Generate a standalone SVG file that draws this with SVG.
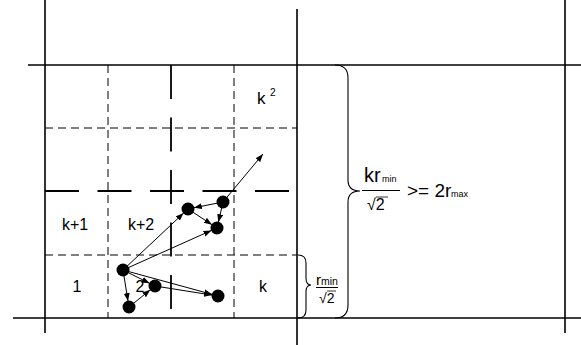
<svg xmlns="http://www.w3.org/2000/svg" width="581" height="345" viewBox="0 0 581 345">
<style>
.solid{stroke:#000;stroke-width:1.6;fill:none}
.dash{stroke:#000;stroke-width:1;stroke-dasharray:8 5;fill:none}
.long{stroke:#000;stroke-width:1.8;stroke-dasharray:34 18.5;fill:none}
.brace{stroke:#000;stroke-width:1.1;fill:none}
.arr{stroke:#000;stroke-width:1;fill:none;marker-end:url(#ah)}
.dot{fill:#000}
text{font-family:"Liberation Sans",Arial,sans-serif;fill:#000}
.lbl{font-size:16px}
</style>
<defs>
<marker id="ah" markerUnits="userSpaceOnUse" markerWidth="9" markerHeight="7" refX="8" refY="3" orient="auto">
<path d="M0,0 L8,3 L0,6 z" fill="#000"/>
</marker>
</defs>
<g id="grid">
<line class="solid" x1="45" y1="0" x2="45" y2="333"/>
<line class="solid" x1="297" y1="9" x2="297" y2="345"/>
<line class="solid" x1="565" y1="0" x2="565" y2="333"/>
<line class="solid" x1="28" y1="65" x2="581" y2="65"/>
<line class="solid" x1="13" y1="318" x2="581" y2="318"/>
<line class="dash" x1="108" y1="65" x2="108" y2="318"/>
<line class="dash" x1="234" y1="65" x2="234" y2="318"/>
<line class="dash" x1="45" y1="128" x2="297" y2="128"/>
<line class="dash" x1="45" y1="255" x2="297" y2="255"/>
<line class="long" x1="171" y1="65" x2="171" y2="318"/>
<line class="long" x1="45" y1="191" x2="297" y2="191"/>
</g>
<g id="labels">
<text x="257" y="104" style="font-size:17px">k</text>
<text x="270" y="96" style="font-size:10px">2</text>
<text class="lbl" x="75" y="230" text-anchor="middle">k+1</text>
<text class="lbl" x="141" y="230" text-anchor="middle">k+2</text>
<text class="lbl" x="77" y="292" text-anchor="middle">1</text>
<text class="lbl" x="140" y="292" text-anchor="middle">2</text>
<text class="lbl" x="263" y="292" text-anchor="middle">k</text>
</g>
<g id="connectors">
<line class="arr" x1="123" y1="270" x2="128" y2="301.1"/>
<line class="arr" x1="129" y1="307" x2="150.3" y2="289.8"/>
<line class="arr" x1="123" y1="270" x2="149.6" y2="283.3"/>
<line class="arr" x1="123" y1="270" x2="212.2" y2="294.4"/>
<line class="arr" x1="155" y1="286" x2="212.1" y2="295.1"/>
<line class="arr" x1="123" y1="270" x2="183.6" y2="213.1"/>
<line class="arr" x1="123" y1="270" x2="211.5" y2="230.4"/>
<line class="arr" x1="223" y1="202" x2="193.9" y2="207.8"/>
<line class="arr" x1="188" y1="209" x2="212" y2="224.7"/>
<line class="arr" x1="223" y1="202" x2="218.4" y2="222.2"/>
<line class="arr" x1="223" y1="202" x2="263" y2="154"/>
</g>
<g id="dots">
<circle class="dot" cx="123" cy="270" r="6.5"/>
<circle class="dot" cx="129" cy="307" r="6.5"/>
<circle class="dot" cx="155" cy="286" r="6.5"/>
<circle class="dot" cx="218" cy="296" r="6.5"/>
<circle class="dot" cx="188" cy="209" r="6.5"/>
<circle class="dot" cx="223" cy="202" r="6.5"/>
<circle class="dot" cx="217" cy="228" r="6.5"/>
</g>
<g id="small-brace">
<path class="brace" d="M298 255 Q306 255 306 263 L306 278 Q306 285 311 285 Q306 285 306 292 L306 310 Q306 318 298 318"/>
<text x="316" y="285" style="font-size:15px">r</text>
<text x="321" y="285" style="font-size:10.5px">min</text>
<line x1="316" y1="287.5" x2="338" y2="287.5" stroke="#000" stroke-width="1"/>
<text x="319" y="303" style="font-size:14px">√2</text>
<line x1="327" y1="291" x2="336" y2="291" stroke="#000" stroke-width="0.8"/>
</g>
<g id="big-brace">
<path class="brace" d="M335 65 Q348 65 348 78 L348 180 Q348 191 360 191 Q348 191 348 202 L348 305 Q348 318 335 318"/>
<text x="364" y="182" style="font-size:20px">kr</text>
<text x="382" y="182" style="font-size:9px">min</text>
<line x1="362" y1="190.5" x2="400" y2="190.5" stroke="#000" stroke-width="1"/>
<text x="367" y="210" style="font-size:16px">√2</text>
<line x1="376" y1="197" x2="388" y2="197" stroke="#000" stroke-width="0.8"/>
<text x="407" y="197" style="font-size:19px">&gt;= 2r</text>
<text x="451" y="197" style="font-size:9px">max</text>
</g>
</svg>
